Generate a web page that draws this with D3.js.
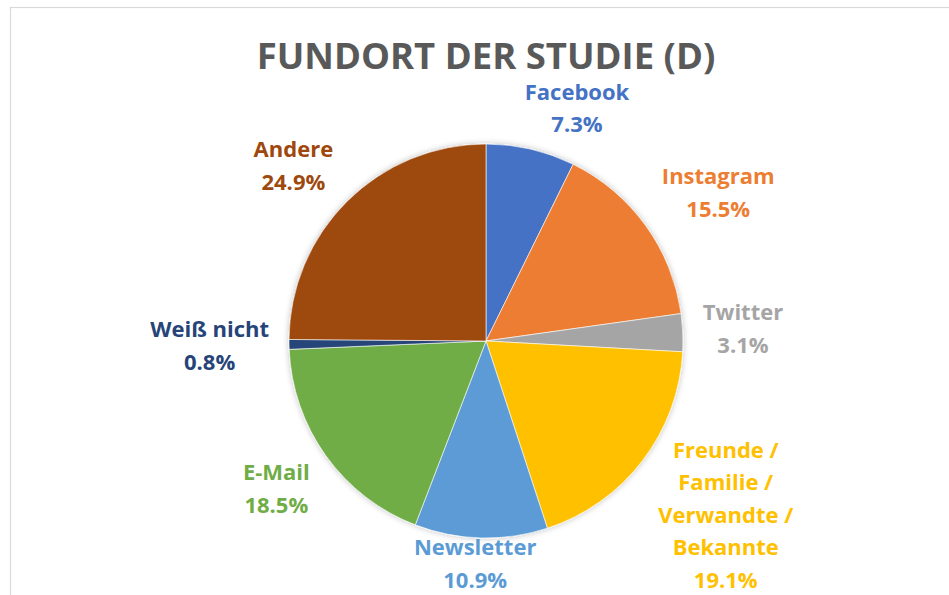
<!DOCTYPE html>
<html>
<head>
<meta charset="utf-8">
<script src="https://cdn.jsdelivr.net/npm/d3@7"></script>
<style>
  body { margin: 0; background: #fff; }
  svg { display: block; }
</style>
</head>
<body>
<script>
(function () {

// data
var categories = ["Facebook", "Instagram", "Twitter", "Freunde / Familie / Verwandte / Bekannte",
                  "Newsletter", "E-Mail", "Weiß nicht", "Andere"];
var values = [7.3, 15.5, 3.1, 19.1, 10.9, 18.5, 0.8, 24.9];
var colors = ["#4472C4", "#ED7D31", "#A5A5A5", "#FFC000", "#5B9BD5", "#70AD47", "#264478", "#9E480E"];
// how Excel wrapped the long category names
var labelLines = [["Facebook"], ["Instagram"], ["Twitter"],
                  ["Freunde /", "Familie /", "Verwandte /", "Bekannte"],
                  ["Newsletter"], ["E-Mail"], ["Weiß nicht"], ["Andere"]];
var title = "FUNDORT DER STUDIE (D)";

var width = 949;
var height = 595;

var cx = 486, cy = 341, radius = 197;
var font = "'Open Sans', 'DejaVu Sans', sans-serif";

var svg = d3.select("body")
  .append("svg")
    .attr("width", width)
    .attr("height", height);

// chart border (only top & left visible in frame)
svg.append("rect")
    .attr("x", 10.5)
    .attr("y", 7.5)
    .attr("width", width)
    .attr("height", height)
    .attr("fill", "#fff")
    .attr("stroke", "#d9d9d9")
    .attr("stroke-width", 1.2);

svg.append("text")
    .attr("x", cx)
    .attr("y", 68.5)
    .attr("text-anchor", "middle")
    .style("font-family", font)
    .style("font-weight", "bold")
    .style("font-size", "36.5px")
    .style("fill", "#595959")
    .text(title);

var defs = svg.append("defs");
var shadow = defs.append("filter")
    .attr("id", "shadow")
    .attr("x", "-10%").attr("y", "-10%")
    .attr("width", "120%").attr("height", "120%");
shadow.append("feGaussianBlur").attr("in", "SourceAlpha").attr("stdDeviation", 3);
shadow.append("feComponentTransfer").append("feFuncA").attr("type", "linear").attr("slope", 0.25);
var merge = shadow.append("feMerge");
merge.append("feMergeNode");
merge.append("feMergeNode").attr("in", "SourceGraphic");

var data = categories.map(function (c, i) {
  return { name: c, value: values[i], color: colors[i], lines: labelLines[i] };
});

var pie = d3.pie()
    .sort(null)
    .value(function (d) { return d.value; });

var arc = d3.arc()
    .innerRadius(0)
    .outerRadius(radius);

var arcs = pie(data);

var g = svg.append("g")
    .attr("transform", "translate(" + cx + "," + cy + ")");

g.append("g")
    .attr("filter", "url(#shadow)")
  .selectAll("path")
    .data(arcs)
    .enter()
    .append("path")
    .attr("d", arc)
    .attr("fill", function (d) { return d.data.color; })
    .attr("stroke", "#fff")
    .attr("stroke-width", 0.6);

// labels: box corner sits just outside the pie, like Excel's "outside end"
var lineH = 32.5;
var labelDist = radius + 20;
var maxLastLine = 580 - cy;   // keep labels inside the chart area

function soft(v) {
  return Math.max(-1, Math.min(1, v * 3.5));
}

var label = g.selectAll(".label")
    .data(arcs)
    .enter()
    .append("text")
    .attr("class", "label")
    .attr("text-anchor", "middle")
    .style("font-family", font)
    .style("font-weight", "bold")
    .style("font-size", "22px")
    .style("fill", function (d) { return d.data.color; });

label.each(function (d) {
  var t = d3.select(this);
  var lines = d.data.lines.concat([d.data.value.toFixed(1) + "%"]);
  var n = lines.length;
  lines.forEach(function (l, i) {
    t.append("tspan")
      .attr("x", 0)
      .attr("y", i * lineH)
      .text(l);
  });
  var hw = this.getBBox().width / 2;
  var hh = ((n - 1) * lineH + 10) / 2;
  var a = (d.startAngle + d.endAngle) / 2;
  var ux = Math.sin(a), uy = -Math.cos(a);
  var x = ux * labelDist + hw * soft(ux);
  var yc = uy * labelDist + hh * soft(uy);
  var firstLine = yc - (n - 1) * lineH / 2;
  if (firstLine + (n - 1) * lineH > maxLastLine) {
    firstLine = maxLastLine - (n - 1) * lineH;
  }
  t.attr("transform", "translate(" + x + "," + (firstLine + 7.7) + ")");
});

}());
</script>
</body>
</html>
